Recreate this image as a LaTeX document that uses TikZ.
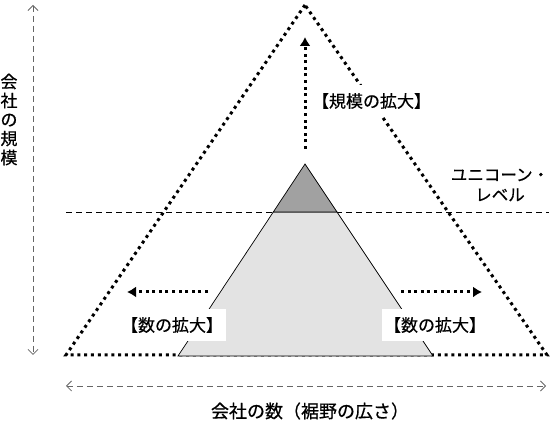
\documentclass[tikz,border=0pt]{standalone}
\usepackage{fontspec}
\setmainfont{Noto Sans CJK JP}[FakeBold=0.6]
\usetikzlibrary{arrows.meta}
\begin{document}
\begin{tikzpicture}[x=1pt,y=-1pt,
  outerdots/.style={line width=3pt, dash pattern=on 3pt off 3.8pt, line cap=butt},
  growarrow/.style={line width=3pt, dash pattern=on 3pt off 3.6pt, line cap=butt, -{Latex[length=9pt,width=11pt]}},
  axisline/.style={draw=black!60, line width=0.8pt, dash pattern=on 6pt off 4pt, {Straight Barb[length=5pt,width=10pt]}-{Straight Barb[length=5pt,width=10pt]}},
  levelline/.style={line width=0.7pt, dash pattern=on 6pt off 4pt},
  whitelabel/.style={fill=white, inner xsep=2.5pt, inner ysep=8pt, font=\fontsize{17}{19}\selectfont},
  plainlabel/.style={inner sep=0pt, align=center, font=\fontsize{16.5}{20}\selectfont}
]
\useasboundingbox (0,0) rectangle (550,422);
% coordinates
\coordinate (OA) at (305,5);
\coordinate (OL) at (66,355);
\coordinate (OR) at (547,355);
\coordinate (GA) at (305,164);
\coordinate (GL) at (273.3,212);
\coordinate (GR) at (337,212);
\coordinate (BL) at (178,356);
\coordinate (BR) at (433,356);
\coordinate (LvL) at (66,212);
\coordinate (LvR) at (549,212);
% unicorn level line
\draw[levelline] (LvL) -- (LvR);
% outer dotted triangle
\draw[outerdots] (OA) -- (OL) -- (OR) -- cycle;
% gray pyramid
\draw[fill=black!11, line width=0.7pt] (GL) -- (GR) -- (BR) -- (BL) -- cycle;
\draw[fill=black!37, line width=0.7pt] (GA) -- (GL) -- (GR) -- cycle;
% axes
\coordinate (VT) at (33,5);
\coordinate (VB) at (33,355);
\coordinate (HL) at (66,386);
\coordinate (HR) at (546,386);
\draw[axisline] (VT) -- (VB);
\draw[axisline] (HL) -- (HR);
% growth arrows
\coordinate (UpS) at (305,149);
\coordinate (UpE) at (305,37);
\coordinate (LS) at (208,292);
\coordinate (LE) at (127,292);
\coordinate (RS) at (401,292);
\coordinate (RE) at (482,292);
\draw[growarrow] (UpS) -- (UpE);
\draw[growarrow] (LS) -- (LE);
\draw[growarrow] (RS) -- (RE);
% labels
\node[whitelabel] (top) at (371.5,101) {【規模の拡大】};
\node[whitelabel] (left) at (172,325) {【数の拡大】};
\node[whitelabel] (right) at (435,325) {【数の拡大】};
\node[plainlabel] (uni) at (500,185) {ユニコーン・\\レベル};
\node[inner sep=0pt, align=center, font=\fontsize{17}{19}\selectfont] (vlab) at (9,119.5) {会\\社\\の\\規\\模};
\node[inner sep=0pt, font=\fontsize{18}{20}\selectfont] (hlab) at (310,411) {会社の数（裾野の広さ）};
\end{tikzpicture}
\end{document}
